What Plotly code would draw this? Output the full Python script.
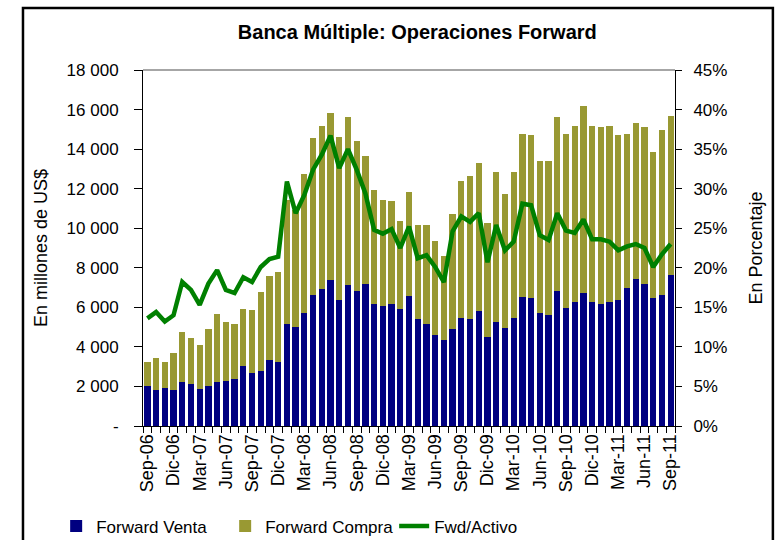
import plotly.graph_objects as go

MESES = ["Ene", "Feb", "Mar", "Abr", "May", "Jun", "Jul", "Ago", "Sep", "Oct", "Nov", "Dic"]
meses = []
for k in range(61):
    m = (8 + k) % 12
    y = 6 + (8 + k) // 12
    meses.append(f"{MESES[m]}-{y:02d}")

forward_venta = [2020, 1820, 1920, 1820, 2220, 2120, 1870, 2020, 2220, 2280, 2380, 3030, 2680, 2780, 3340, 3240,
                 5160, 5000, 5710, 6620, 6930, 7380, 6370, 7130, 6830, 7180, 6170, 6070, 6170, 5920, 6570, 5410,
                 5160, 4600, 4350, 4900, 5460, 5410, 5810, 4500, 5260, 4950, 5460, 6520, 6470, 5710, 5610, 6830,
                 5970, 6270, 6720, 6270, 6170, 6270, 6370, 6980, 7430, 7180, 6470, 6620, 7630]
forward_compra = [1220, 1620, 1320, 1870, 2530, 2330, 2230, 2880, 3440, 2980, 2780, 2890, 3180, 3990, 4240, 4550,
                  6270, 5920, 7030, 7940, 8240, 8440, 8240, 8490, 7580, 6470, 5760, 5360, 5210, 4440, 5260, 4750,
                  5000, 4750, 4240, 5820, 6930, 7230, 7490, 5760, 7580, 6780, 7380, 8240, 8240, 7690, 7790, 8790,
                  8790, 8900, 9460, 8900, 8950, 8900, 8340, 7780, 7890, 7940, 7380, 8350, 8040]
fwd_activo = [13.6, 14.4, 13.2, 14.0, 18.2, 17.2, 15.3, 18.0, 19.7, 17.2, 16.8, 18.8, 18.2, 20.1, 21.1, 21.4,
              30.9, 26.9, 29.2, 32.4, 34.3, 36.7, 32.6, 35.0, 32.4, 29.4, 24.8, 24.3, 24.9, 22.5, 25.2, 21.2,
              21.6, 20.1, 18.2, 24.6, 26.5, 25.8, 26.9, 20.7, 25.4, 22.2, 23.3, 28.1, 27.9, 24.1, 23.5, 26.9,
              24.7, 24.4, 26.1, 23.6, 23.6, 23.3, 22.2, 22.7, 23.0, 22.5, 20.1, 21.7, 23.0]

left_vals = [0, 2000, 4000, 6000, 8000, 10000, 12000, 14000, 16000, 18000]
left_text = ["-", "2 000", "4 000", "6 000", "8 000", "10 000", "12 000", "14 000", "16 000", "18 000"]
right_vals = [0, 5, 10, 15, 20, 25, 30, 35, 40, 45]
right_text = [f"{v}%" for v in right_vals]
x_text = [m if i % 3 == 0 else "" for i, m in enumerate(meses)]

FONT = "Liberation Sans Narrow, Arial Narrow, Liberation Sans, Arial, sans-serif"

fig = go.Figure()
fig.add_trace(go.Bar(x=meses, y=forward_venta, name="Forward Venta", marker_color="#000080",
                     marker_line_width=0))
fig.add_trace(go.Bar(x=meses, y=forward_compra, name="Forward Compra", marker_color="#999933",
                     marker_line_width=0))
fig.add_trace(go.Scatter(x=meses, y=fwd_activo, name="Fwd/Activo", mode="lines",
                         line=dict(color="#008000", width=4.5), yaxis="y2"))

fig.update_layout(
    width=780, height=540,
    margin=dict(l=143, r=105, t=70, b=114),
    paper_bgcolor="white", plot_bgcolor="white",
    barmode="stack", bargap=0.28,
    font=dict(family=FONT, size=17, color="black"),
    title=dict(text="<b>Banca Múltiple: Operaciones Forward</b>", x=0.535, xanchor="center",
               y=0.94, yanchor="middle", font=dict(family="Liberation Sans, Arial", size=20)),
    xaxis=dict(type="category", tickmode="array", tickvals=meses, ticktext=x_text,
               tickangle=-90, tickson="boundaries", ticks="outside", ticklen=6, tickcolor="black",
               showline=True, linecolor="black", linewidth=1, showgrid=False, automargin=False,
               tickfont=dict(size=18), range=[-0.5, 60.5]),
    yaxis=dict(range=[0, 18000], tickmode="array", tickvals=left_vals, ticktext=left_text,
               ticks="outside", ticklen=8, tickcolor="black", showline=True, linecolor="black",
               linewidth=1, showgrid=False, zeroline=False, ticklabelstandoff=12, automargin=False,
               title=dict(text="En millones de US$", font=dict(size=18), standoff=14)),
    yaxis2=dict(range=[0, 45], overlaying="y", side="right", tickmode="array", tickvals=right_vals,
                ticktext=right_text, ticks="outside", ticklen=6, tickcolor="black", showline=True,
                linecolor="black", linewidth=1, showgrid=False, zeroline=False, ticklabelstandoff=8,
                automargin=False,
                title=dict(text="En Porcentaje", font=dict(size=18), standoff=22)),
    legend=dict(orientation="h", x=0.072, xanchor="left", xref="container",
                y=0.025, yanchor="middle", yref="container",
                font=dict(size=17), entrywidth=124, entrywidthmode="pixels",
                traceorder="normal"),
    showlegend=True,
)

fig.add_shape(type="line", xref="paper", yref="paper", x0=0, x1=1, y0=1, y1=1,
              line=dict(color="#888888", width=1.5))
fig.add_shape(type="rect", xref="paper", yref="paper", x0=-0.2256, x1=1.184, y0=-0.35, y1=1.174,
              line=dict(color="black", width=2.5), fillcolor="rgba(0,0,0,0)")

fig.write_html("out.html")
